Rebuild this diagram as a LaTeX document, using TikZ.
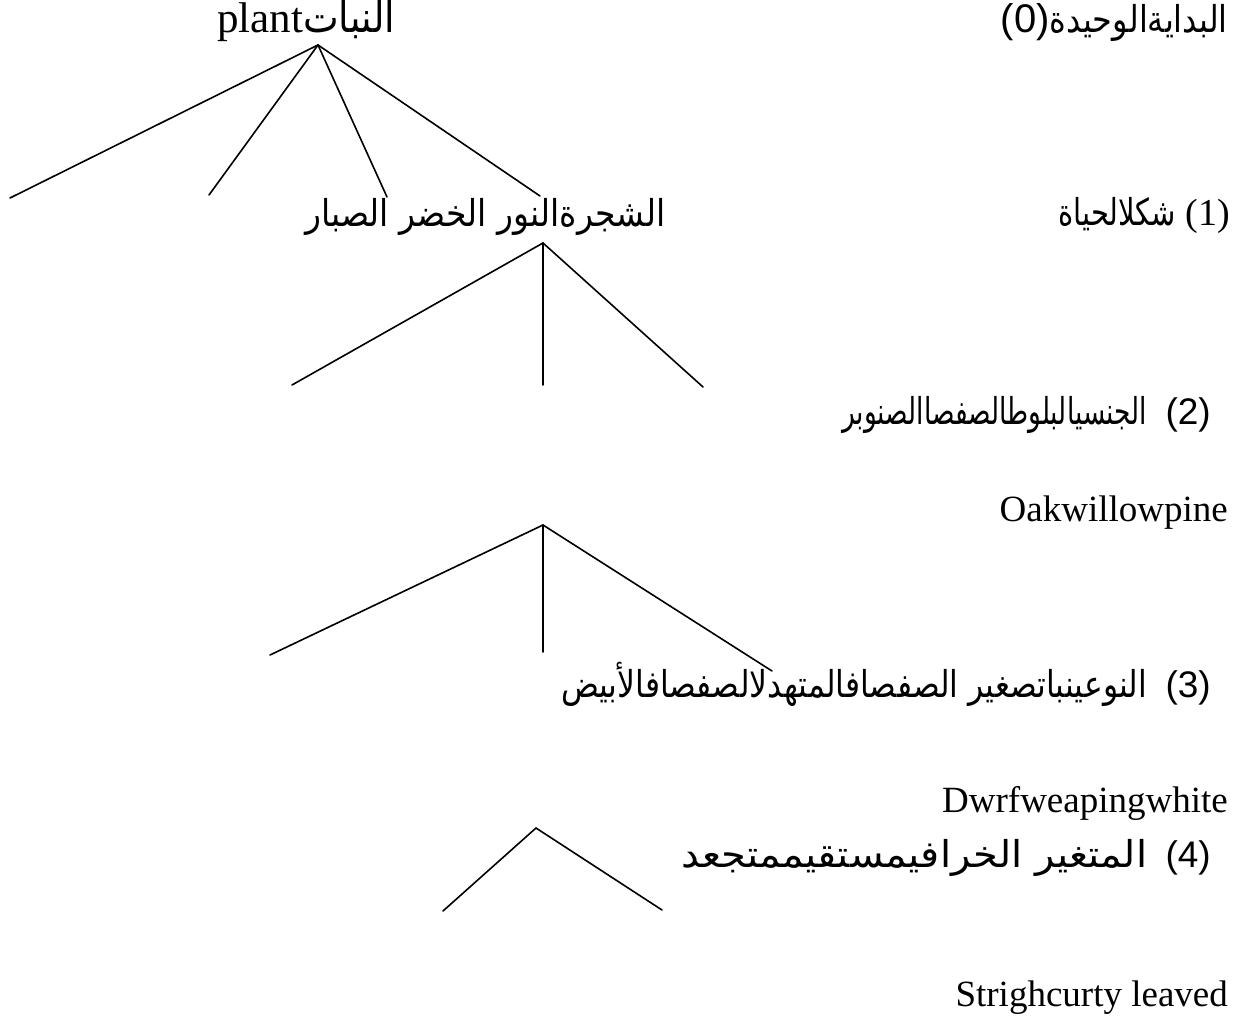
\documentclass[tikz,border=0pt]{standalone}
\usepackage{graphicx}
\usepackage{fontspec}
\setmainfont{Liberation Serif}
\newfontfamily\arabicfont[Script=Arabic]{DejaVu Sans}
\newfontfamily\numfont{Liberation Sans}
\TeXXeTstate=1
% Arabic text fitted to a given width (in pt)
\newcommand\arfit[2]{\resizebox{#1pt}{\height}{\arabicfont #2}}
\begin{document}
\begin{tikzpicture}[x=1pt,y=-1pt,
  branch/.style={line width=1.6pt, line cap=round},
  lab/.style={inner sep=0pt, anchor=base east},
  latinbig/.style={font=\fontsize{43}{46}\selectfont},
  latin/.style={font=\fontsize{37}{40}\selectfont},
  arab/.style={font=\fontsize{37}{40}\selectfont}]
\useasboundingbox (0,0) rectangle (1244,1016);

% level labels on the right
\node[lab, arab] (lvl0) at (1228,33) {{\numfont\fontsize{40}{44}\selectfont(0)}\arfit{178}{\beginR البدايةالوحيدة\endR}};
\node[lab, arab] (lvl1) at (1230,226) {\arfit{118}{\beginR شكلالحياة\endR}\ {\fontsize{38}{42}\selectfont(1)}};
\node[lab, arab] (lvl2) at (1211,424) {\arfit{305}{\beginR الجنسيالبلوطالصفصاالصنوبر\endR}\ \ {\numfont(2)}};
\node[lab, latin] (en2) at (1228,521) {Oakwillowpine};
\node[lab, arab] (lvl3) at (1211,697) {\arfit{586}{\beginR النوعينباتصغير الصفصافالمتهدلالصفصافالأبيض\endR}\ \ {\numfont(3)}};
\node[lab, latin] (en3) at (1228,812) {Dwrfweapingwhite};
\node[lab, arab] (lvl4) at (1211,867) {\arfit{466}{\beginR المتغير الخرافيمستقيممتجعد\endR}\ \ {\numfont(4)}};
\node[lab, latin] (en4) at (1228,1006) {Strighcurty leaved};

% tree labels
\node[inner sep=0pt, anchor=base west, latinbig] (root) at (217,33) {plant\arfit{92}{\beginR النبات\endR}};
\node[inner sep=0pt, anchor=base west, arab] (forms) at (305,227) {\arfit{360}{\beginR الشجرةالنور الخضر الصبار\endR}};

% branching points and branch ends
\coordinate (a0) at (318,45);
\coordinate (a0l1) at (10,198);
\coordinate (a0l2) at (209,195);
\coordinate (a0l3) at (387,197);
\coordinate (a0l4) at (540,196);

\coordinate (a1) at (543,243);
\coordinate (a1l1) at (292,385);
\coordinate (a1l2) at (543,385);
\coordinate (a1l3) at (703,387);

\coordinate (a2) at (543,525);
\coordinate (a2l1) at (270,655);
\coordinate (a2l2) at (543,652);
\coordinate (a2l3) at (772,671);

\coordinate (a3) at (536,828);
\coordinate (a3l1) at (443,911);
\coordinate (a3l2) at (662,910);

\foreach \e in {a0l1,a0l2,a0l3,a0l4} \draw[branch] (a0) -- (\e);
\foreach \e in {a1l1,a1l2,a1l3} \draw[branch] (a1) -- (\e);
\foreach \e in {a2l1,a2l2,a2l3} \draw[branch] (a2) -- (\e);
\foreach \e in {a3l1,a3l2} \draw[branch] (a3) -- (\e);
\end{tikzpicture}
\end{document}
